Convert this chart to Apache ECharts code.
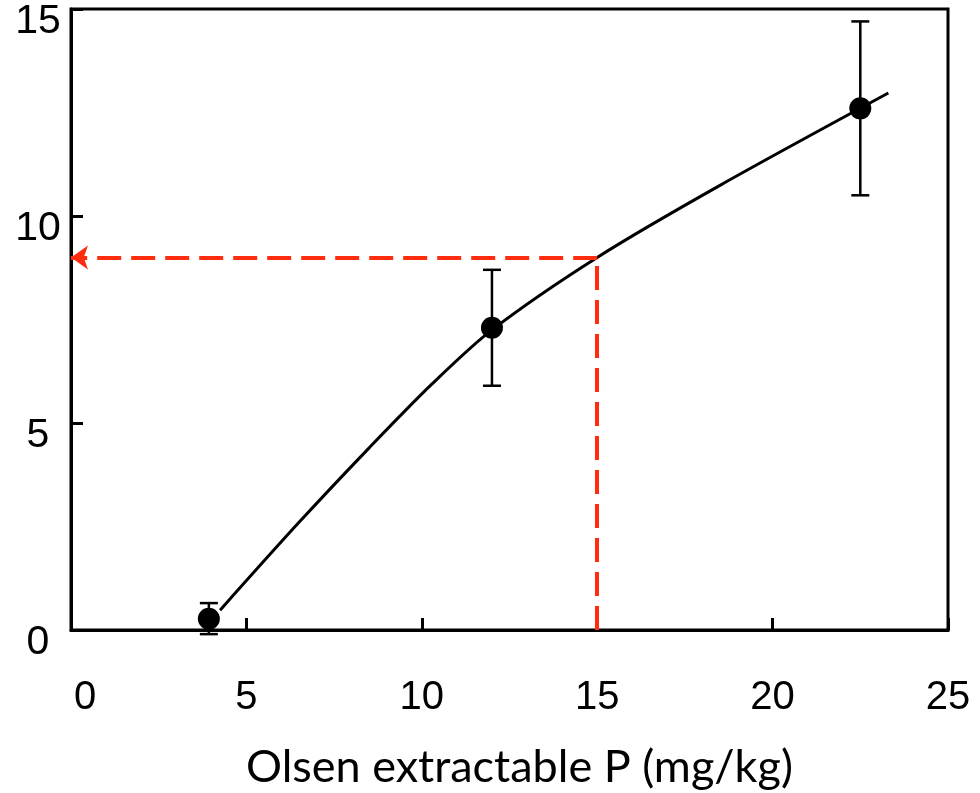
<!DOCTYPE html>
<html>
<head>
<meta charset="utf-8">
<script src="https://cdn.jsdelivr.net/npm/echarts@6/dist/echarts.min.js"></script>
<style>
  html, body { margin: 0; padding: 0; background: #fff; }
  #chart { width: 980px; height: 793px; }
</style>
</head>
<body>
<div id="chart"></div>
<script>
// measured points (mean) and error bar ends
var pointX = [3.93, 12.0, 22.5];
var pointY = [0.27, 7.3, 12.6];
var errLow = [-0.1, 5.9, 10.5];
var errHigh = [0.65, 8.7, 14.7];

// fitted curve
var curveX = [4.25, 6.5, 8.5, 10.3, 12.0, 15.0, 18.5, 23.3];
var curveY = [0.48, 2.6, 4.4, 5.95, 7.25, 9.0, 10.74, 12.97];

// red guide: read P = 15 -> 9
var guideX = [15];
var guideY = [9];

var xTicks = [0, 5, 10, 15, 20, 25];
var yTicks = [0, 5, 10, 15];

var red = '#ff2d0f';
var font = '"Liberation Sans", Arial, sans-serif';

var pts = [], curve = [], bars = [];
for (var i = 0; i < pointX.length; i++) {
  pts.push([pointX[i], pointY[i]]);
  bars.push([pointX[i], errLow[i], errHigh[i]]);
}
for (var j = 0; j < curveX.length; j++) {
  curve.push([curveX[j], curveY[j]]);
}

var myChart = echarts.init(document.getElementById('chart'));

var option = {
  animation: false,
  backgroundColor: '#fff',
  grid: {
    left: 71, right: 32, top: 9, bottom: 163,
    containLabel: false, outerBoundsMode: 'none',
    show: true, borderColor: '#000', borderWidth: 3
  },
  xAxis: {
    type: 'value',
    min: xTicks[0], max: xTicks[xTicks.length - 1], interval: 5,
    splitLine: { show: false },
    axisLine: { show: true, lineStyle: { color: '#000', width: 3 } },
    axisTick: { show: true, inside: true, length: 12, lineStyle: { color: '#000', width: 3 } },
    axisLabel: {
      margin: 48, color: '#000', fontSize: 40, fontFamily: font,
      formatter: function (v) { return v === 0 ? '{z|0}' : String(v); },
      rich: { z: { fontSize: 40, fontFamily: font, color: '#000', padding: [0, 0, 0, 28] } }
    },
    name: 'Olsen extractable P (mg/kg)',
    nameLocation: 'middle',
    nameGap: 115,
    nameTextStyle: { color: '#000', fontSize: 45, fontFamily: 'Lato, "Open Sans", sans-serif', padding: [0, 0, 0, 20] }
  },
  yAxis: {
    type: 'value',
    min: yTicks[0], max: yTicks[yTicks.length - 1], interval: 5,
    splitLine: { show: false },
    axisLine: { show: true, lineStyle: { color: '#000', width: 3 } },
    axisTick: { show: true, inside: true, length: 12, lineStyle: { color: '#000', width: 3 } },
    axisLabel: {
      margin: 33, align: 'center', color: '#000', fontSize: 41, fontFamily: font,
      formatter: function (v) { return '{a|' + v + '}'; },
      rich: { a: { fontSize: 41, fontFamily: font, color: '#000', padding: [26, 0, 0, 0] } }
    }
  },
  series: [
    {
      type: 'line',
      data: curve,
      smooth: 0.3,
      showSymbol: false,
      lineStyle: { color: '#000', width: 3 },
      z: 3
    },
    {
      type: 'line',
      data: [],
      markLine: {
        silent: true,
        animation: false,
        symbol: ['none', 'none'],
        label: { show: false },
        lineStyle: { color: red, width: 4, type: [24, 10] },
        data: [
          [
            { coord: [guideX[0], guideY[0]], symbol: 'none' },
            { coord: [0, guideY[0]], symbol: 'arrow', symbolSize: [18, 17] }
          ],
          [
            { coord: [guideX[0], 0], symbol: 'none' },
            { coord: [guideX[0], guideY[0]], symbol: 'none' }
          ]
        ]
      },
      z: 2
    },
    {
      type: 'custom',
      data: bars,
      renderItem: function (params, api) {
        var x = api.value(0);
        var lo = api.coord([x, api.value(1)]);
        var hi = api.coord([x, api.value(2)]);
        var w = 9;
        var st = { stroke: '#000', lineWidth: 2.5 };
        return {
          type: 'group',
          children: [
            { type: 'line', shape: { x1: lo[0], y1: lo[1], x2: hi[0], y2: hi[1] }, style: st },
            { type: 'line', shape: { x1: lo[0] - w, y1: lo[1], x2: lo[0] + w, y2: lo[1] }, style: st },
            { type: 'line', shape: { x1: hi[0] - w, y1: hi[1], x2: hi[0] + w, y2: hi[1] }, style: st }
          ]
        };
      },
      z: 4
    },
    {
      type: 'scatter',
      data: pts,
      symbol: 'circle',
      symbolSize: 22,
      itemStyle: { color: '#000', opacity: 1 },
      z: 5
    }
  ]
};

myChart.setOption(option);
</script>
</body>
</html>
